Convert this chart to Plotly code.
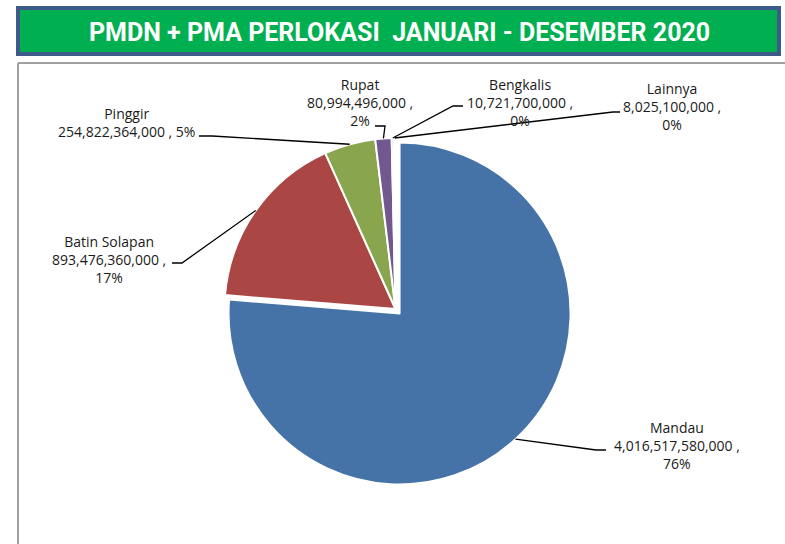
import math

import plotly.graph_objects as go

# data
regions = ["Mandau", "Batin Solapan", "Pinggir", "Rupat", "Bengkalis", "Lainnya"]
investment = [4016517580000, 893476360000, 254822364000, 80994496000, 10721700000, 8025100000]
colors = ["#4572A7", "#AA4643", "#89A54E", "#71588F", "#4198AF", "#DB843D"]
title_text = "PMDN + PMA PERLOKASI  JANUARI - DESEMBER 2020"

W, H = 785, 544
PIE_CX, PIE_CY, PIE_R = 395.5, 309.0, 171.0
pulls = [0.035, 0, 0, 0, 0, 0]

# label placement (pixel centres) and leader line elbow / end points
label_pos = [(677, 445), (109, 259), (126, 123), (360, 102), (520, 102), (672, 107)]
label_split = [True, True, False, True, True, True]
leader_elbow = [(596, 450), (182, 263), (212, 136), (385, 126), (453, 106), (613, 112)]
leader_end = [(606, 450), (172, 263), (199, 136), (375, 126), (463, 106), (620, 112)]


def px(x):
    return x / W


def py(y):
    return 1 - y / H


size = 2 * PIE_R * (1 + max(pulls))
domain_x = [px(PIE_CX - size / 2), px(PIE_CX + size / 2)]
domain_y = [py(PIE_CY + size / 2), py(PIE_CY - size / 2)]

fig = go.Figure(
    go.Pie(
        labels=regions,
        values=investment,
        marker=dict(colors=colors, line=dict(color="white", width=2)),
        sort=False,
        direction="clockwise",
        rotation=0,
        pull=pulls,
        textinfo="none",
        domain=dict(x=domain_x, y=domain_y),
        showlegend=False,
    )
)

total = sum(investment)
shapes = []
annotations = []
cum = 0.0
for i, (name, v) in enumerate(zip(regions, investment)):
    frac = v / total
    theta = 2 * math.pi * (cum + frac / 2)
    cum += frac
    cx = PIE_CX + pulls[i] * PIE_R * math.sin(theta)
    cy = PIE_CY - pulls[i] * PIE_R * math.cos(theta)
    ax = cx + PIE_R * math.sin(theta)
    ay = cy - PIE_R * math.cos(theta)
    ex, ey = leader_elbow[i]
    tx, ty = leader_end[i]
    shapes.append(dict(
        type="path", xref="paper", yref="paper",
        path=f"M {px(ax)} {py(ay)} L {px(ex)} {py(ey)} L {px(tx)} {py(ty)}",
        line=dict(color="black", width=1.3),
    ))
    pct = f"{round(frac * 100):.0f}%"
    sep = "<br>" if label_split[i] else " "
    text = f"{name}<br>{v:,} ,{sep}{pct}"
    lx, ly = label_pos[i]
    annotations.append(dict(
        x=px(lx), y=py(ly), xref="paper", yref="paper",
        text=text, showarrow=False, xanchor="center", yanchor="middle",
        align="center", font=dict(family="Open Sans", size=14, color="#1a1a1a"),
    ))

# chart area frame
shapes.append(dict(type="line", xref="paper", yref="paper",
                   x0=px(18), x1=px(785), y0=py(63), y1=py(63),
                   line=dict(color="#A0A0A0", width=2)))
shapes.append(dict(type="line", xref="paper", yref="paper",
                   x0=px(18), x1=px(18), y0=py(63), y1=py(544),
                   line=dict(color="#A0A0A0", width=2)))
# title banner
shapes.append(dict(type="rect", xref="paper", yref="paper",
                   x0=px(18), x1=px(779), y0=py(54), y1=py(8),
                   fillcolor="#00B050", line=dict(color="#3D5A8A", width=4)))
annotations.append(dict(
    x=px(399), y=py(32), xref="paper", yref="paper", text=title_text,
    showarrow=False, xanchor="center", yanchor="middle",
    font=dict(family="Roboto", size=25, color="white", weight="bold"),
))

fig.update_layout(
    width=W,
    height=H,
    margin=dict(l=0, r=0, t=0, b=0),
    paper_bgcolor="white",
    plot_bgcolor="white",
    shapes=shapes,
    annotations=annotations,
)

fig.write_html(
    "out.html",
    config={"displayModeBar": False},
    post_script="document.body.style.margin='0';document.body.style.overflow='hidden';",
)
